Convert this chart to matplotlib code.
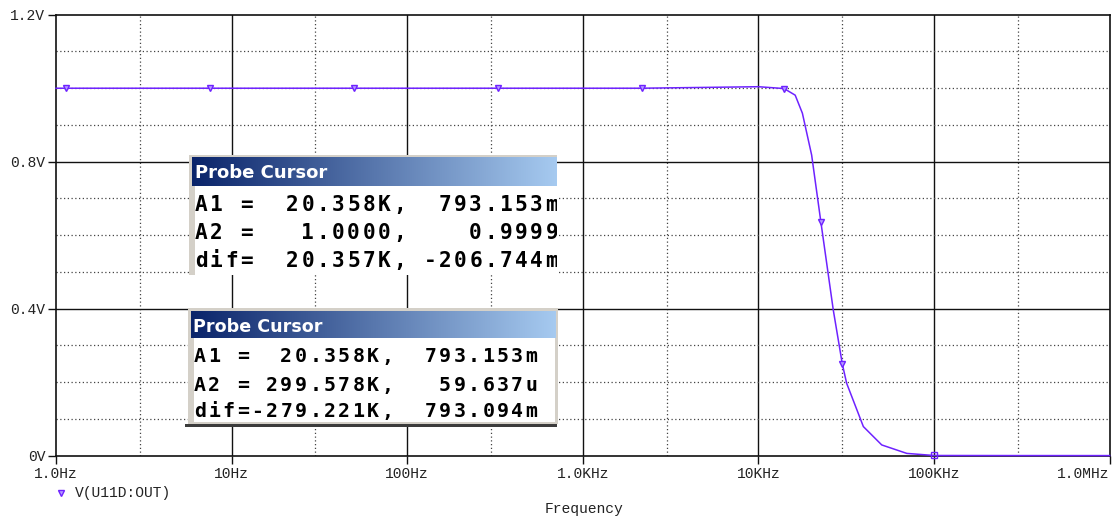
import numpy as np
import matplotlib
matplotlib.use("Agg")
import matplotlib.pyplot as plt
from matplotlib.colors import LinearSegmentedColormap
from matplotlib.patches import Rectangle
from matplotlib.lines import Line2D
from matplotlib.ticker import NullLocator

# ---- data -------------------------------------------------------------
freq_hz = [1.0, 1.135, 7.55, 50.0, 327.0, 2160.0, 10000.0, 14000.0, 16200.0,
           17800.0, 20100.0, 22700.0, 26700.0, 30060.0, 31800.0, 39600.0,
           50400.0, 70000.0, 100000.0, 299578.0, 1.0e6]
v_out = [0.9999, 0.9999, 0.9999, 0.9999, 0.9999, 0.9999, 1.004, 0.999, 0.981,
         0.932, 0.818, 0.635, 0.396, 0.249, 0.197, 0.079,
         0.029, 0.006, 0.0003, 59.637e-6, 1.0e-5]
marker_idx = [1, 2, 3, 4, 5, 7, 11, 13]
square_idx = 18

x_ticks = [1, 10, 100, 1e3, 1e4, 1e5, 1e6]
x_tick_labels = ["1.0Hz", "10Hz", "100Hz", "1.0KHz", "10KHz", "100KHz", "1.0MHz"]
y_ticks = [0.0, 0.4, 0.8, 1.2]
y_tick_labels = ["0V", "0.4V", "0.8V", "1.2V"]

trace_name = "V(U11D:OUT)"
x_title = "Frequency"

cursor_title = "Probe Cursor"
cursor_rows_1 = ["A1 =  20.358K,  793.153m",
                 "A2 =   1.0000,    0.9999",
                 "dif=  20.357K, -206.744m"]
cursor_rows_2 = ["A1 =  20.358K,  793.153m",
                 "A2 = 299.578K,   59.637u",
                 "dif=-279.221K,  793.094m"]

# ---- figure -----------------------------------------------------------
W, H = 1114, 519
fig = plt.figure(figsize=(W / 100, H / 100), dpi=100)
fig.patch.set_facecolor("white")

PURPLE = "#6E22FF"
MONO = "Liberation Mono"

ax_x0, ax_x1, ax_y0, ax_y1 = 56, 1109.6, 14.7, 455.6
ax = fig.add_axes([ax_x0 / W, 1 - ax_y1 / H, (ax_x1 - ax_x0) / W, (ax_y1 - ax_y0) / H])
ax.set_xscale("log")
ax.set_xlim(1, 1e6)
ax.set_ylim(0, 1.2)
ax.set_facecolor("white")

# grid: solid at decades / major volts, dotted at 3x and 0.1 V steps
for d in x_ticks[1:-1]:
    ax.axvline(d, color="#111111", lw=1.0, zorder=1)
for k in range(6):
    ax.axvline(3 * 10 ** k, color="#444444", lw=0.9, ls=(0, (1, 2)), zorder=1)
for v in [0.4, 0.8]:
    ax.axhline(v, color="#111111", lw=1.0, zorder=1)
for v in [0.1, 0.2, 0.3, 0.5, 0.6, 0.7, 0.9, 1.0, 1.1]:
    ax.axhline(v, color="#444444", lw=0.9, ls=(0, (1, 2)), zorder=1)

ax.plot(freq_hz, v_out, color=PURPLE, lw=1.1, marker="v", markevery=marker_idx,
        ms=5, mfc="#B59CFF", mec=PURPLE, mew=1.0, clip_on=False, zorder=3)
ax.plot([freq_hz[square_idx]], [v_out[square_idx]], marker="s", ms=5, mfc="none",
        mec=PURPLE, mew=1.0, ls="none", clip_on=False, zorder=3)

ax.set_xticks(x_ticks)
ax.set_xticklabels(x_tick_labels)
ax.xaxis.set_minor_locator(NullLocator())
ax.set_yticks(y_ticks)
ax.set_yticklabels(y_tick_labels)
ax.tick_params(axis="x", direction="out", length=5.5, width=1.0, pad=3,
               labelsize=10.5, colors="#111111")
ax.tick_params(axis="y", direction="out", length=5.8, width=1.0, pad=2,
               labelsize=10.5, colors="#111111")
for lab in ax.get_xticklabels() + ax.get_yticklabels():
    lab.set_fontfamily(MONO)
    lab.set_color("#222222")
ax.get_xticklabels()[-1].set_horizontalalignment("right")
for s in ax.spines.values():
    s.set_linewidth(1.2)
    s.set_color("#111111")

# legend entry and axis title below the plot
fig.add_artist(Line2D([61 / W], [1 - 492.5 / H], transform=fig.transFigure,
                      marker="v", ms=5, mfc="#B59CFF", mec=PURPLE, mew=1.0, ls="none"))
fig.text(75 / W, 1 - 492.5 / H, trace_name, fontfamily=MONO, fontsize=10.5,
         color="#222222", ha="left", va="center")
fig.text(584 / W, 1 - 509 / H, x_title, fontfamily=MONO, fontsize=10.5,
         color="#222222", ha="center", va="center")

# ---- probe cursor windows ----------------------------------------------
title_cmap = LinearSegmentedColormap.from_list("title", ["#0A246A", "#A6CAF0"])
FRAME = "#D4D0C8"


def pixel_axes(x0, y0, x1, y1):
    a = fig.add_axes([x0 / W, 1 - y1 / H, (x1 - x0) / W, (y1 - y0) / H])
    a.axis("off")
    return a


def draw_cursor(box, title_box, body_box, shadow, title_pos, title_fs,
                rows, text_x, pitch, baselines, fs):
    x0, y0, x1, y1 = box
    a = pixel_axes(x0, y0, x1, y1)
    fx0, fy0, fx1, fy1 = box if shadow is None else (x0 + 3, y0, x1, shadow[1])
    a.add_patch(Rectangle((fx0, fy0), fx1 - fx0, fy1 - fy0, color=FRAME, lw=0))
    if shadow is not None:
        sx0, sy0, sx1, sy1 = shadow
        a.add_patch(Rectangle((sx0, sy0), sx1 - sx0, sy1 - sy0, color="#3C3C3C", lw=0))
    tx0, ty0, tx1, ty1 = title_box
    grad = np.linspace(0, 1, 256).reshape(1, -1)
    a.imshow(grad, cmap=title_cmap, extent=(tx0, tx1, ty1, ty0), aspect="auto",
             interpolation="bilinear", zorder=2)
    bx0, by0, bx1, by1 = body_box
    a.add_patch(Rectangle((bx0, by0), bx1 - bx0, by1 - by0, color="white", lw=0, zorder=2))
    a.text(title_pos[0], title_pos[1], cursor_title, color="white",
           fontfamily="DejaVu Sans", fontweight="bold", fontsize=title_fs,
           ha="left", va="baseline", zorder=4, clip_on=True)
    for row, base in zip(rows, baselines):
        for i, ch in enumerate(row):
            if ch == " ":
                continue
            a.text(text_x + i * pitch + pitch * 0.40, base, ch, color="black",
                   fontfamily="DejaVu Sans Mono", fontweight="bold", fontsize=fs,
                   ha="center", va="baseline", zorder=4, clip_on=True)
    a.set_xlim(x0, x1)
    a.set_ylim(y1, y0)


draw_cursor(box=(189, 155, 557, 275), title_box=(192, 157, 557, 186),
            body_box=(195, 186, 557, 275), shadow=None,
            title_pos=(195, 178.3), title_fs=13.0,
            rows=cursor_rows_1, text_x=195, pitch=15.25,
            baselines=[210.7, 238.6, 267.0], fs=15.2)

draw_cursor(box=(185, 308, 558, 427), title_box=(191, 311, 556, 338),
            body_box=(194, 338, 555, 422), shadow=(185, 424, 557, 427),
            title_pos=(193, 332.0), title_fs=12.6,
            rows=cursor_rows_2, text_x=194, pitch=14.43,
            baselines=[362.3, 390.5, 417.3], fs=14.3)

fig.savefig("out.png", dpi=100, facecolor="white")
